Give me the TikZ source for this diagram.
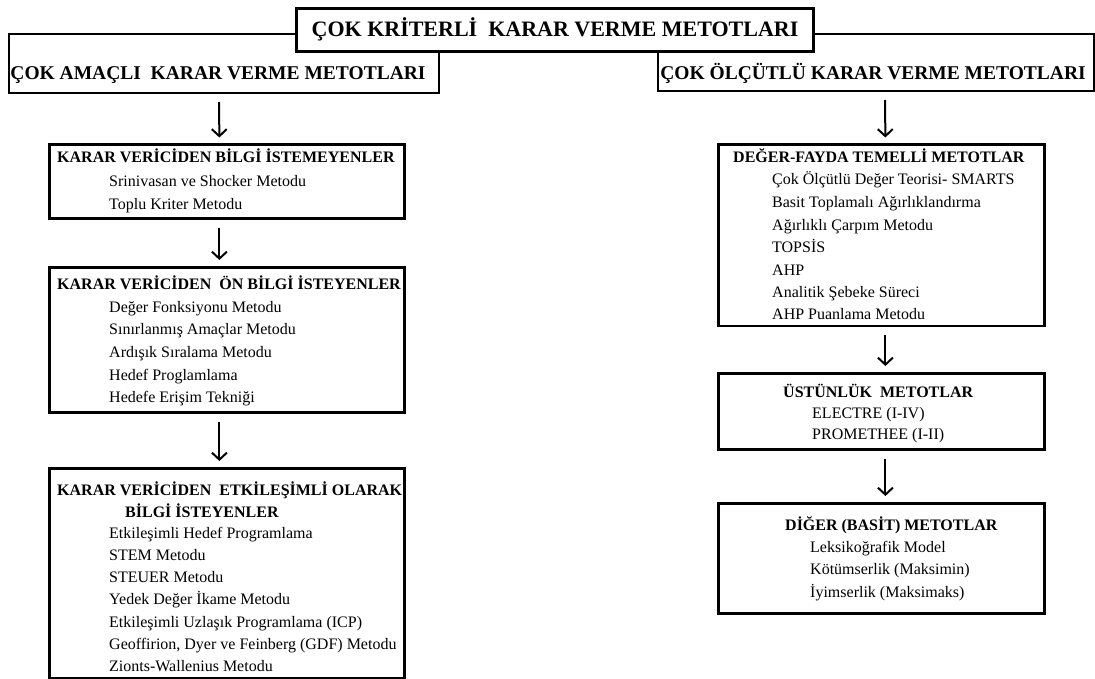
\documentclass[tikz,border=0pt]{standalone}
\usepackage{fontspec}
\setmainfont{Liberation Serif}
\usetikzlibrary{arrows.meta}
\tikzset{
  boxframe/.style={draw=black, line width=2.8pt, fill=white, rectangle, inner sep=0pt, anchor=north west},
  topframe/.style={draw=black, line width=2pt, fill=white, rectangle, inner sep=0pt, anchor=north west},
  titleframe/.style={draw=black, line width=3pt, fill=white, rectangle, inner sep=0pt, anchor=north west},
  hd/.style={anchor=base west, inner sep=0pt, font=\fontsize{16}{18}\selectfont\bfseries},
  it/.style={anchor=base west, inner sep=0pt, font=\fontsize{16}{18}\selectfont},
  arr/.style={draw=black, line width=2pt, -{Straight Barb[length=7pt,width=15pt,line width=2pt]}, shorten <=8pt, shorten >=6pt}
}
\begin{document}
\begin{tikzpicture}[x=1pt,y=-1pt]
\useasboundingbox (0,0) rectangle (1095,679);
% top headers
\node[topframe, minimum width=430, minimum height=59] (lh) at (8,33) {};
\node[anchor=base, inner sep=0pt, font=\fontsize{19.5}{21}\selectfont\bfseries] (lht) at (218,80) {ÇOK AMAÇLI\ \ KARAR VERME METOTLARI};
\node[topframe, minimum width=436, minimum height=57] (rh) at (657,33) {};
\node[anchor=base, inner sep=0pt, font=\fontsize{19.5}{21}\selectfont\bfseries] (rht) at (873,80) {ÇOK ÖLÇÜTLÜ KARAR VERME METOTLARI};
% title
\node[titleframe, minimum width=517, minimum height=43] (tt) at (295,7) {};
\node[anchor=base, inner sep=0pt, font=\fontsize{22}{24}\selectfont\bfseries] (ttt) at (555,36.5) {ÇOK KRİTERLİ\ \ KARAR VERME METOTLARI};

% left boxes
\node[boxframe, minimum width=355, minimum height=74] (l1) at (48,143.5) {};
\node[hd] (l1h) at (57,162.5) {KARAR VERİCİDEN BİLGİ İSTEMEYENLER};
\node[it] (l1a) at (109,187) {Srinivasan ve Shocker Metodu};
\node[it] (l1b) at (109,210) {Toplu Kriter Metodu};

\node[boxframe, minimum width=355, minimum height=145] (l2) at (48,266) {};
\node[hd] (l2h) at (57,289) {KARAR VERİCİDEN\ \ ÖN BİLGİ İSTEYENLER};
\node[it] (l2a) at (109,312) {Değer Fonksiyonu Metodu};
\node[it] (l2b) at (109,334.7) {Sınırlanmış Amaçlar Metodu};
\node[it] (l2c) at (109,357.4) {Ardışık Sıralama Metodu};
\node[it] (l2d) at (109,380.1) {Hedef Proglamlama};
\node[it] (l2e) at (109,402.8) {Hedefe Erişim Tekniği};

\node[boxframe, minimum width=355, minimum height=210] (l3) at (48,467) {};
\node[hd] (l3h) at (57,495) {KARAR VERİCİDEN\ \ ETKİLEŞİMLİ OLARAK};
\node[hd] (l3h2) at (125,517) {BİLGİ İSTEYENLER};
\node[it] (l3a) at (109,538) {Etkileşimli Hedef Programlama};
\node[it] (l3b) at (109,560.3) {STEM Metodu};
\node[it] (l3c) at (109,582.6) {STEUER Metodu};
\node[it] (l3d) at (109,604.9) {Yedek Değer İkame Metodu};
\node[it] (l3e) at (109,627.2) {Etkileşimli Uzlaşık Programlama (ICP)};
\node[it] (l3f) at (109,649.5) {Geoffirion, Dyer ve Feinberg (GDF) Metodu};
\node[it] (l3g) at (109,671.3) {Zionts-Wallenius Metodu};

% right boxes
\node[boxframe, minimum width=326, minimum height=181] (r1) at (717,143.5) {};
\node[hd] (r1h) at (733,163) {DEĞER-FAYDA TEMELLİ METOTLAR};
\node[it] (r1a) at (772,185) {Çok Ölçütlü Değer Teorisi- SMARTS};
\node[it] (r1b) at (772,207.5) {Basit Toplamalı Ağırlıklandırma};
\node[it] (r1c) at (772,230) {Ağırlıklı Çarpım Metodu};
\node[it] (r1d) at (772,252.5) {TOPSİS};
\node[it] (r1e) at (772,275) {AHP};
\node[it] (r1f) at (772,297.5) {Analitik Şebeke Süreci};
\node[it] (r1g) at (772,319.5) {AHP Puanlama Metodu};

\node[boxframe, minimum width=326, minimum height=76] (r2) at (717,372) {};
\node[hd] (r2h) at (783,397) {ÜSTÜNLÜK\ \ METOTLAR};
\node[it] (r2a) at (812,418) {ELECTRE (I-IV)};
\node[it] (r2b) at (812,439) {PROMETHEE (I-II)};

\node[boxframe, minimum width=326, minimum height=110] (r3) at (717,502) {};
\node[hd] (r3h) at (785,530) {DİĞER (BASİT) METOTLAR};
\node[it] (r3a) at (810,552) {Leksikoğrafik Model};
\node[it] (r3b) at (810,574.5) {Kötümserlik (Maksimin)};
\node[it] (r3c) at (810,597) {İyimserlik (Maksimaks)};

% arrows
\draw[arr] ([xshift=-5pt]lh.south) -- ([xshift=-7.5pt]l1.north);
\draw[arr] ([xshift=-7.5pt]l1.south) -- ([xshift=-7.5pt]l2.north);
\draw[arr] ([xshift=-7.5pt]l2.south) -- ([xshift=-7.5pt]l3.north);
\draw[arr] ([xshift=9pt]rh.south) -- ([xshift=4pt]r1.north);
\draw[arr] ([xshift=4pt]r1.south) -- ([xshift=4pt]r2.north);
\draw[arr] ([xshift=4pt]r2.south) -- ([xshift=4pt]r3.north);
\end{tikzpicture}
\end{document}
